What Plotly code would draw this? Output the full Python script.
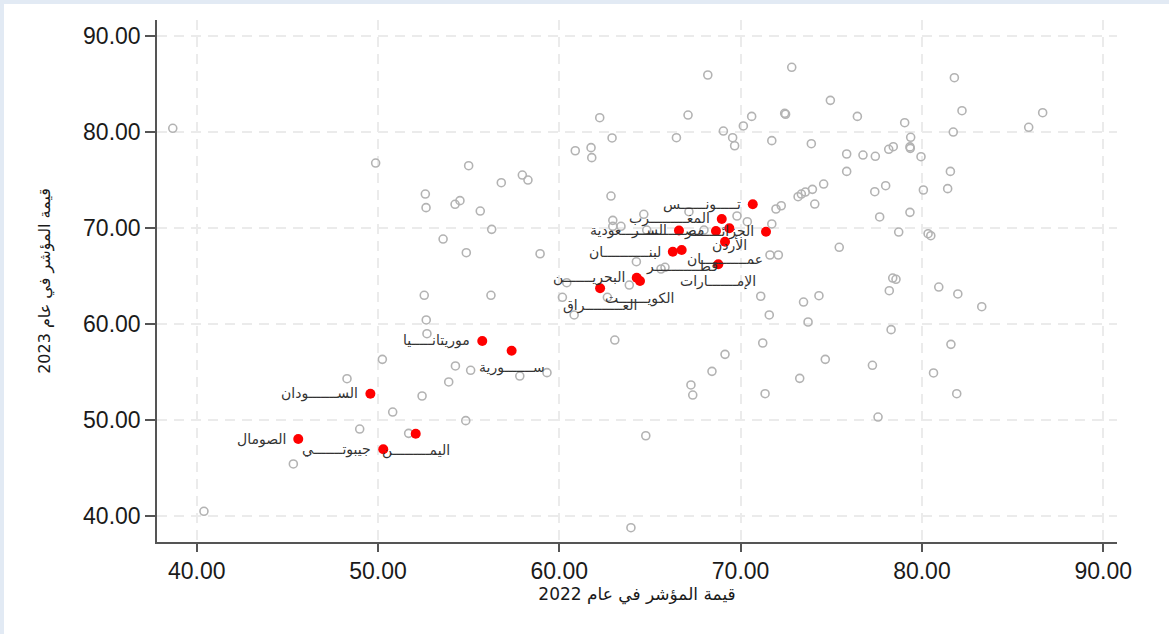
import plotly.graph_objects as go

# Index values for all other countries (2022 on x, 2023 on y)
others_2022 = [
    38.68, 49.87, 55.00, 52.61, 52.65, 54.25, 54.52, 55.64, 56.80, 57.96, 58.27, 56.27, 53.59,
    54.87, 58.94, 60.88, 61.75, 61.79, 62.23, 62.91, 62.85, 64.66, 62.95, 62.95, 63.40, 64.25,
    68.19, 72.82, 81.79, 74.95, 82.21, 86.66, 85.89, 81.73, 67.10, 70.61, 72.43, 72.48, 76.44,
    79.05, 79.38, 79.34, 79.36, 79.95, 78.42, 78.17, 77.43, 76.75, 75.85, 75.85, 81.57, 81.42,
    80.08, 78.00, 77.40, 79.34, 77.67, 78.72, 80.34, 80.49, 75.44, 74.58, 73.96, 73.57, 73.35,
    73.17, 74.09, 72.24, 71.95, 71.72, 66.46, 69.05, 69.56, 69.67, 70.15, 71.72, 73.90, 67.15,
    69.80, 70.37, 71.62, 72.08, 65.83, 65.61, 63.86, 62.65, 71.11, 73.47, 74.32, 78.20, 78.39,
    78.57, 80.93, 81.98, 83.30, 67.98, 64.82,
    71.58, 73.72, 78.30, 63.06, 71.22, 81.60, 69.14, 74.67, 68.42, 77.27, 80.64, 67.26, 67.36,
    73.26, 71.35, 81.92, 77.58, 64.77, 63.95,
    60.41, 60.17, 60.82, 52.55, 56.23, 52.66, 52.70, 50.24, 54.27, 55.11, 57.82, 59.32, 53.90,
    48.29, 52.43, 50.81, 54.84, 48.99, 51.69, 45.33, 40.40,
]
others_2023 = [
    80.39, 76.77, 76.49, 73.54, 72.12, 72.47, 72.85, 71.77, 74.72, 75.52, 75.00, 69.86, 68.85,
    67.43, 67.32, 78.05, 78.37, 77.33, 81.49, 79.38, 73.33, 71.43, 70.80, 70.18, 70.18, 66.49,
    85.94, 86.74, 85.66, 83.30, 82.22, 82.01, 80.49, 80.00, 81.77, 81.63, 81.95, 81.85, 81.63,
    80.97, 79.45, 78.45, 78.30, 77.43, 78.47, 78.20, 77.47, 77.60, 77.71, 75.90, 75.90, 74.10,
    73.96, 74.41, 73.78, 71.63, 71.15, 69.58, 69.41, 69.20, 67.99, 74.58, 74.03, 73.75, 73.54,
    73.26, 72.50, 72.32, 71.98, 70.42, 79.41, 80.10, 79.41, 78.57, 80.63, 79.10, 78.78, 71.70,
    71.25, 70.66, 67.19, 67.19, 65.91, 65.73, 64.06, 62.78, 62.89, 62.29, 62.95, 63.47, 64.79,
    64.66, 63.85, 63.13, 61.80, 69.79, 69.79,
    60.94, 60.21, 59.41, 58.33, 58.02, 57.88, 56.84, 56.32, 55.07, 55.70, 54.90, 53.65, 52.60,
    54.34, 52.74, 52.74, 50.31, 48.36, 38.78,
    64.30, 62.78, 60.94, 62.99, 62.99, 60.42, 58.99, 56.32, 55.63, 55.18, 54.58, 54.93, 53.96,
    54.30, 52.50, 50.83, 49.93, 49.06, 48.61, 45.42, 40.49,
]

# Arab countries (highlighted), names padded with tatweel
arab_names = [
    "تـــــونــــــس", "المغـــــــــرب", "الســــــعودية", "مصـــــــــــر", "الجزائـــــــر",
    "الأردن", "عمـــــــــــان", "لبنـــــــــــان", "قطـــــــــــر", "الإمـــــــارات",
    "البحريـــــــن", "الكويـــــــت", "العـــــــــراق", "موريتانـــــيا", "ســـــــورية",
    "الســـــــودان", "الصومال", "اليمـــــــــن", "جيبوتـــــــي",
]
arab_2022 = [70.67, 68.96, 66.60, 68.64, 71.40, 69.38, 69.14, 66.26, 66.75, 68.77, 64.27,
             64.45, 62.25, 55.75, 57.37, 49.58, 45.60, 52.08, 50.29]
arab_2023 = [72.47, 70.94, 69.74, 69.69, 69.61, 69.97, 68.57, 67.53, 67.71, 66.22, 64.82,
             64.48, 63.72, 58.23, 57.22, 52.74, 48.02, 48.57, 46.95]

# Labels drawn under the marker; all others sit to the left of it
labels_below = {"الأردن", "عمـــــــــــان", "قطـــــــــــر", "الإمـــــــارات",
                "الكويـــــــت", "العـــــــــراق", "ســـــــورية", "اليمـــــــــن"}

x_ticks = [40, 50, 60, 70, 80, 90]
y_ticks = [40, 50, 60, 70, 80, 90]

fig = go.Figure()

fig.add_trace(go.Scatter(
    x=others_2022, y=others_2023, mode="markers",
    marker=dict(symbol="circle-open", size=8, color="#b3b3b3", line=dict(width=1.6)),
    hoverinfo="skip", showlegend=False,
))
fig.add_trace(go.Scatter(
    x=arab_2022, y=arab_2023, mode="markers",
    marker=dict(symbol="circle", size=10, color="#ff0000"),
    text=arab_names, hoverinfo="text", showlegend=False,
))

label_font = dict(family="DejaVu Sans, Liberation Sans", size=14, color="#333333")
for name, x, y in zip(arab_names, arab_2022, arab_2023):
    if name in labels_below:
        fig.add_annotation(x=x, y=y, text=name, showarrow=False, font=label_font,
                           xanchor="center", yanchor="middle", yshift=-17)
    else:
        fig.add_annotation(x=x, y=y, text=name, showarrow=False, font=label_font,
                           xanchor="right", yanchor="middle", xshift=-10)

axis_common = dict(
    showline=True, linecolor="#555555", linewidth=1.5,
    ticks="outside", tickcolor="#555555", tickwidth=1.5,
    showgrid=True, gridcolor="#ebebeb", gridwidth=1.5, griddash="10px,7px",
    zeroline=False, tickformat=".2f",
    tickfont=dict(family="Liberation Sans, Arial", size=23, color="#1a1a1a"),
)

fig.update_xaxes(
    **axis_common, range=[37.81, 90.76], tickvals=x_ticks, ticklen=8,
    title=dict(text="قيمة المؤشر في عام 2022", standoff=5,
               font=dict(family="DejaVu Sans, Liberation Sans", size=17, color="#1a1a1a")),
)
fig.update_yaxes(
    **axis_common, range=[37.29, 91.67], tickvals=y_ticks, ticklen=10,
    title=dict(text="قيمة المؤشر في عام 2023", standoff=28,
               font=dict(family="DejaVu Sans, Liberation Sans", size=16, color="#1a1a1a")),
)

# thin light frame along the top and left edges of the figure
fig.add_shape(type="line", xref="paper", yref="paper",
              x0=-157 / 960, x1=1 + 52 / 960, y0=1 + 18 / 522, y1=1 + 18 / 522,
              line=dict(color="#e2eaf4", width=4))
fig.add_shape(type="line", xref="paper", yref="paper",
              x0=-155 / 960, x1=-155 / 960, y0=-92 / 522, y1=1 + 20 / 522,
              line=dict(color="#e2eaf4", width=4))

fig.update_layout(
    width=1169, height=634,
    margin=dict(l=157, r=52, t=20, b=92),
    paper_bgcolor="white", plot_bgcolor="white",
    font=dict(family="Liberation Sans, DejaVu Sans"),
)

fig.write_html("out.html")
